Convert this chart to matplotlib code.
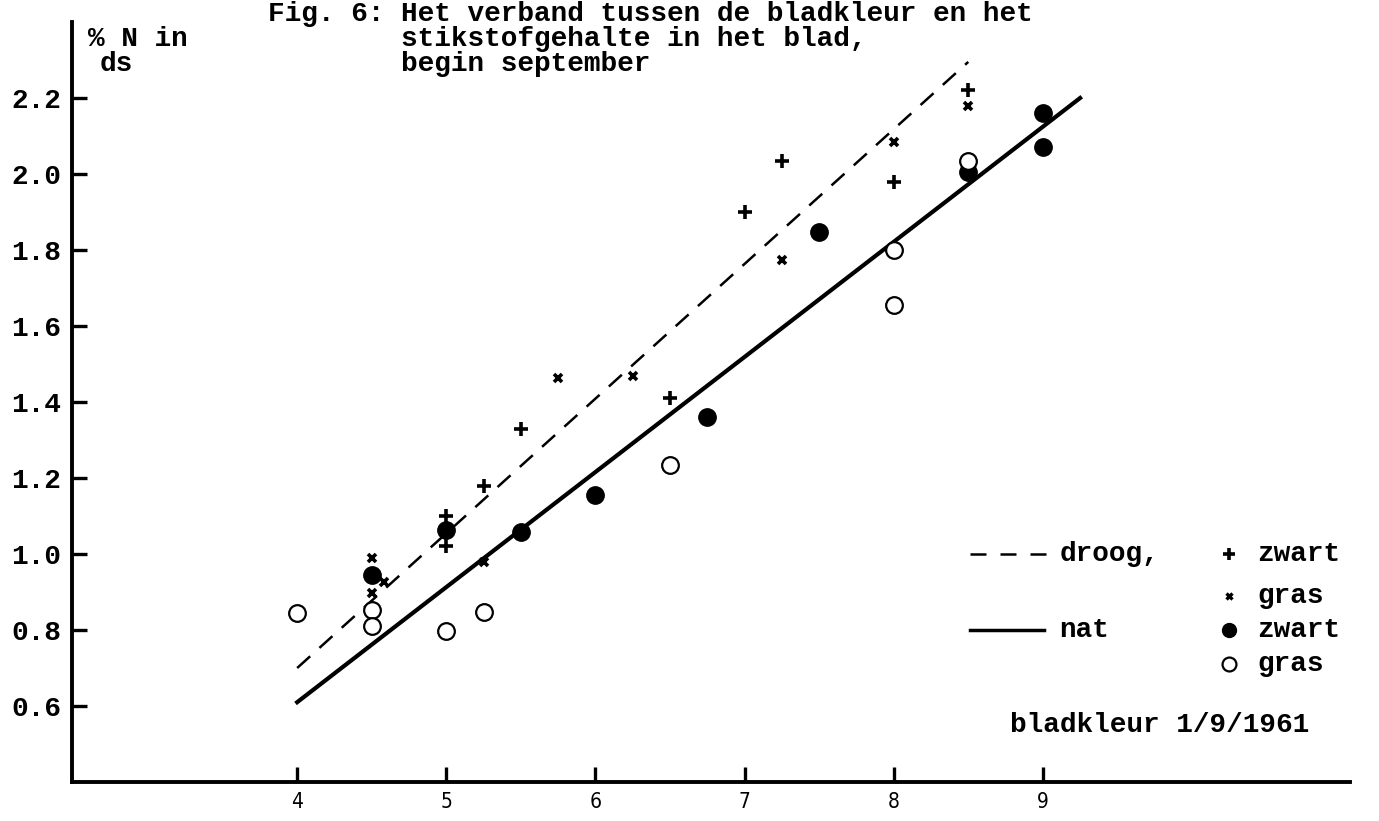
import matplotlib.pyplot as plt

# bladkleur (x) tegen % N in ds (y)
droog_zwart_x = [5.0, 5.0, 5.25, 5.5, 6.5, 7.0, 7.25, 8.0, 8.5]
droog_zwart_y = [1.10, 1.02, 1.18, 1.33, 1.41, 1.90, 2.035, 1.98, 2.22]

droog_gras_x = [4.5, 4.5, 4.58, 5.25, 5.75, 6.25, 7.25, 8.0, 8.5]
droog_gras_y = [0.99, 0.897, 0.926, 0.98, 1.463, 1.468, 1.774, 2.084, 2.18]

nat_zwart_x = [4.5, 5.0, 5.5, 6.0, 6.75, 7.5, 8.5, 9.0, 9.0]
nat_zwart_y = [0.945, 1.063, 1.058, 1.155, 1.36, 1.847, 2.005, 2.16, 2.07]

nat_gras_x = [4.0, 4.5, 4.5, 5.0, 5.25, 6.5, 8.0, 8.0, 8.5]
nat_gras_y = [0.845, 0.853, 0.81, 0.797, 0.847, 1.234, 1.80, 1.655, 2.035]

# regressielijnen
droog_lijn_x = [4.0, 8.5]
droog_lijn_y = [0.70, 2.295]
nat_lijn_x = [4.0, 9.25]
nat_lijn_y = [0.61, 2.20]

x_ticks = [4, 5, 6, 7, 8, 9]
y_ticks = [0.6, 0.8, 1.0, 1.2, 1.4, 1.6, 1.8, 2.0, 2.2]

title_lines = ['Fig. 6: Het verband tussen de bladkleur en het',
               '        stikstofgehalte in het blad,',
               '        begin september']

tw = dict(family='Liberation Mono', weight='bold', color='black')

fig = plt.figure(figsize=(13.79, 8.21), dpi=100)
ax = fig.add_axes([0.0522, 0.0475, 0.9268, 0.9257])

# lijnen
ax.plot(droog_lijn_x, droog_lijn_y, color='black', lw=1.8, linestyle=(0, (7, 5)))
ax.plot(nat_lijn_x, nat_lijn_y, color='black', lw=3)

# punten
ax.plot(droog_zwart_x, droog_zwart_y, '+', color='black', ms=10, mew=2.6)
ax.plot(droog_gras_x, droog_gras_y, 'x', color='black', ms=6, mew=2.6)
ax.plot(nat_zwart_x, nat_zwart_y, 'o', color='black', ms=12.5)
ax.plot(nat_gras_x, nat_gras_y, 'o', mfc='white', mec='black', ms=12, mew=1.6)

ax.set_xlim(2.49, 11.06)
ax.set_ylim(0.4, 2.4)

for s in ['top', 'right']:
    ax.spines[s].set_visible(False)
for s in ['left', 'bottom']:
    ax.spines[s].set_linewidth(2.8)

ax.set_xticks(x_ticks)
ax.set_xticklabels([str(v) for v in x_ticks], family='DejaVu Sans', fontstretch='condensed', fontsize=15)
ax.set_yticks(y_ticks)
ax.set_yticklabels(['%.1f' % v for v in y_ticks], **tw, fontsize=20)
ax.tick_params(axis='both', direction='in', length=11, width=2.4)
ax.tick_params(axis='x', pad=7)
ax.tick_params(axis='y', pad=8)

# legenda
ax.plot([8.51, 9.02], [1.0, 1.0], color='black', lw=1.8, linestyle=(0, (6.4, 5.6)))
ax.text(9.11, 1.0, 'droog,', fontsize=20, ha='left', va='center', **tw)
ax.plot([8.51, 9.01], [0.80, 0.80], color='black', lw=2.5)
ax.text(9.11, 0.80, 'nat', fontsize=20, ha='left', va='center', **tw)

ax.plot([10.25], [1.0], '+', color='black', ms=9, mew=2.6)
ax.plot([10.25], [0.89], 'x', color='black', ms=5, mew=2.4)
ax.plot([10.25], [0.80], 'o', color='black', ms=10)
ax.plot([10.25], [0.71], 'o', mfc='white', mec='black', ms=10, mew=1.6)
for yy, lab in zip([1.0, 0.89, 0.80, 0.71], ['zwart', 'gras', 'zwart', 'gras']):
    ax.text(10.44, yy, lab, fontsize=20, ha='left', va='center', **tw)

ax.text(8.78, 0.55, 'bladkleur 1/9/1961', fontsize=20, ha='left', va='center', **tw)

# titel en y-as tekst
for i, line in enumerate(title_lines):
    fig.text(268 / 1379, 1 - (14 + 25 * i) / 821, line, fontsize=20, ha='left', va='center', **tw)
fig.text(88 / 1379, 1 - 39 / 821, '% N in', fontsize=20, ha='left', va='center', **tw)
fig.text(100 / 1379, 1 - 64 / 821, 'ds', fontsize=20, ha='left', va='center', **tw)

fig.savefig('out.png', dpi=100)
